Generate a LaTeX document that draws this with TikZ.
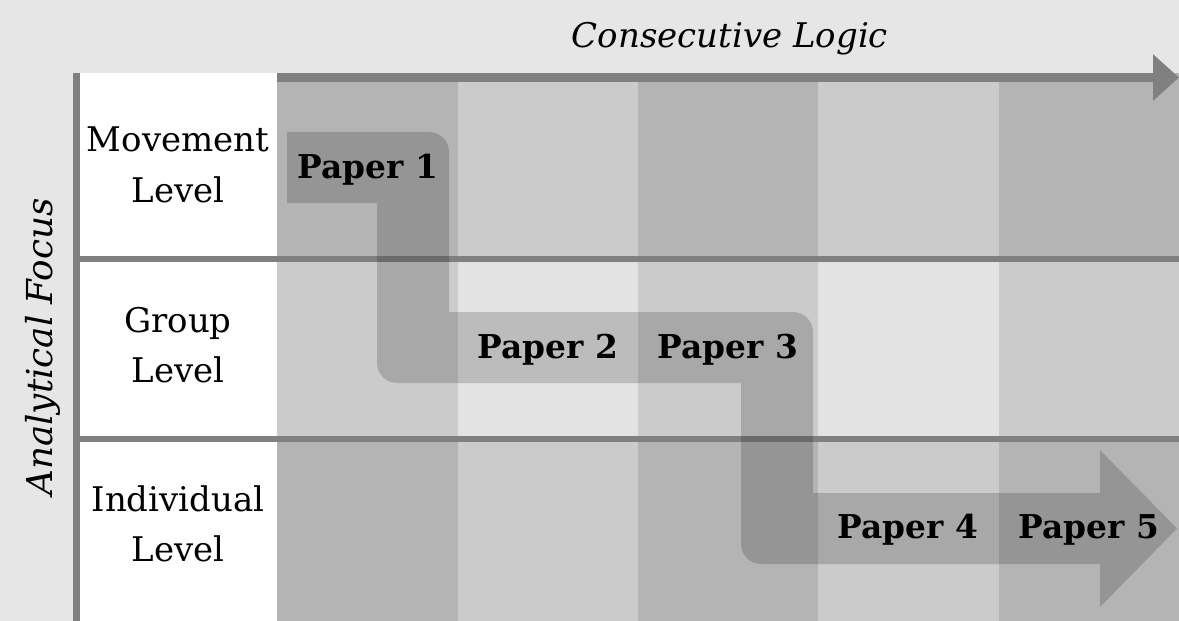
\documentclass[tikz,border=0pt]{standalone}
\usepackage{amsmath}
\usepackage{xcolor}
\usepackage{fontspec}
\setmainfont{DejaVu Serif}
\usetikzlibrary{positioning,arrows.meta}

\definecolor{bggray}{HTML}{E6E6E6}
\definecolor{linegray}{HTML}{808080}
\definecolor{darkcol}{HTML}{B4B4B4}
\definecolor{midcol}{HTML}{CBCBCB}
\definecolor{lightcol}{HTML}{E3E3E3}

\begin{document}
\begin{tikzpicture}[x=0.03cm, y=-0.03cm,
    level/.style={align=center, font=\fontsize{29}{43}\selectfont},
    paper/.style={anchor=base, font=\fontsize{28}{34}\selectfont\bfseries},
    axislabel/.style={anchor=base, font=\fontsize{29}{35}\selectfont\itshape},
    rule/.style={draw=linegray, line width=0.18cm}]
      % Define the background and the label column
      \fill[bggray] (0,0) rectangle (1179,621);
      \useasboundingbox (0,0) rectangle (1179,621);
      \fill[white] (80,73) rectangle (277,621);

      % Draw the shaded columns of the grid
      \foreach \xa/\xb [count=\c] in {277/458, 458/638, 638/818, 818/999, 999/1179} {
          \ifodd\c \def\edgeshade{darkcol}\def\centershade{midcol}%
          \else \def\edgeshade{midcol}\def\centershade{lightcol}\fi
          \fill[\edgeshade] (\xa,73) rectangle (\xb,259);
          \fill[\centershade] (\xa,259) rectangle (\xb,439);
          \fill[\edgeshade] (\xa,439) rectangle (\xb,621);
      }

      % Define the end points of the axes and row rules
      \coordinate (vtop) at (76.5,73);
      \coordinate (vbot) at (76.5,621);
      \coordinate (htop) at (277,77.5);
      \coordinate (hend) at (1179,77.5);
      \coordinate (r1l) at (80,259);
      \coordinate (r1r) at (1179,259);
      \coordinate (r2l) at (80,439);
      \coordinate (r2r) at (1179,439);

      % Draw the axes and the row rules
      \draw[linegray, line width=0.21cm] (vtop) -- (vbot);
      \draw[linegray, line width=0.27cm, -{Triangle[length=0.78cm, width=1.35cm]}] (htop) -- (hend);
      \draw[rule] (r1l) -- (r1r);
      \draw[rule] (r2l) -- (r2r);

      % Draw the stepped band of papers
      \fill[black, opacity=0.17] (287,132) -- (429,132) .. controls (440,132) and (449,141) .. (449,152)
          -- (449,312) -- (793,312) .. controls (804,312) and (813,321) .. (813,332)
          -- (813,493) -- (1100,493) -- (1100,450) -- (1177,528.5) -- (1100,607) -- (1100,564)
          -- (761,564) .. controls (750,564) and (741,555) .. (741,544)
          -- (741,383) -- (397,383) .. controls (386,383) and (377,374) .. (377,363)
          -- (377,203) -- (287,203) -- cycle;

      % Define the axis labels
      \node[axislabel] (logic) at (730,48) {Consecutive Logic};
      \node[axislabel, rotate=90, font=\fontsize{30.5}{36}\selectfont\itshape] (focus) at (52,347) {Analytical Focus};

      % Define the level labels
      \node[level] (movement) at (178,165) {Movement\\Level};
      \node[level] (group) at (178,345) {Group\\Level};
      \node[level] (individual) at (178,524) {Individual\\Level};

      % Define the paper labels
      \node[paper] (p1) at (368,178) {Paper 1};
      \node[paper] (p2) at (548,358) {Paper 2};
      \node[paper] (p3) at (728,358) {Paper 3};
      \node[paper] (p4) at (908,538) {Paper 4};
      \node[paper] (p5) at (1089,538) {Paper 5};
\end{tikzpicture}
\end{document}
